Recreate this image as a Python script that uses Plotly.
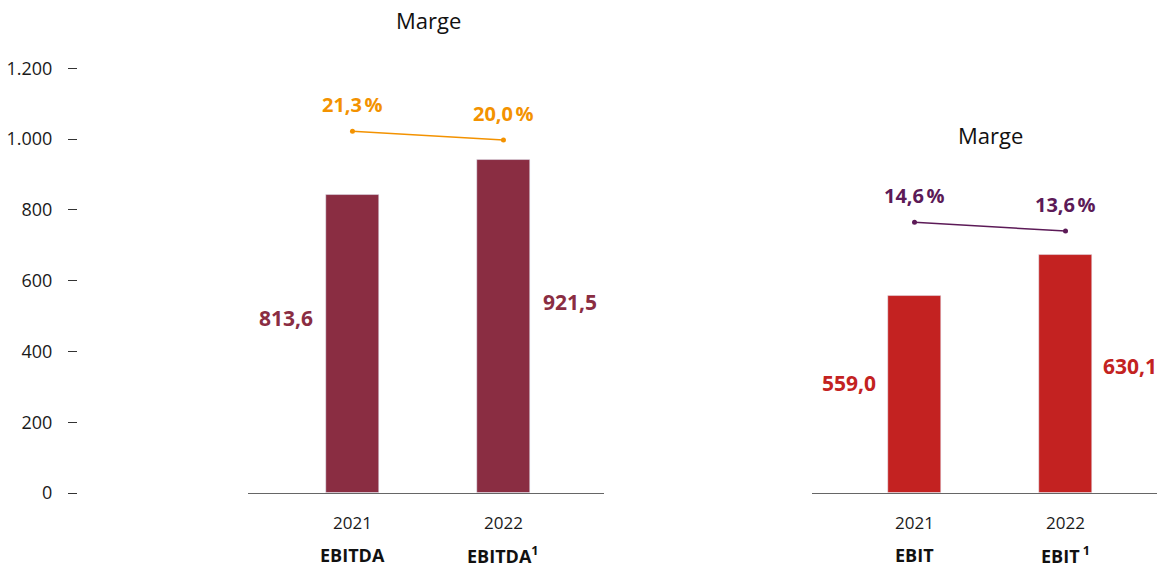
import plotly.graph_objects as go

years = ["2021", "2022"]
ebitda_bars = [842, 940]          # bar heights as drawn
ebitda_labels = ["813,6", "921,5"]
ebitda_margin_pos = [1022, 997]
ebitda_margin_labels = ["21,3\u202f%", "20,0\u202f%"]
ebit_bars = [556, 672]
ebit_labels = ["559,0", "630,1"]
ebit_margin_pos = [765, 740]
ebit_margin_labels = ["14,6\u202f%", "13,6\u202f%"]
cat_left = ["EBITDA", "EBITDA<sup>1</sup>"]
cat_right = ["EBIT", "EBIT<sup> 1</sup>"]
y_ticks = [0, 200, 400, 600, 800, 1000, 1200]
y_ticktext = ["0", "200", "400", "600", "800", "1.000", "1.200"]

C_EBITDA = "#8a2d42"
C_EBIT = "#c32221"
C_ORANGE = "#f39200"
C_PURPLE = "#5c1a57"
FONT = "Open Sans"
W, H = 1157, 575
VIEW_H = 564  # page gets squeezed to this height in the screenshot


def py(pix):
    # pixel row in the 1157x564 picture -> paper fraction
    return 1 - pix / VIEW_H


fig = go.Figure()
fig.add_trace(go.Bar(x=[0, 1], y=ebitda_bars, marker_color=C_EBITDA, width=0.351,
                     xaxis="x", yaxis="y", hoverinfo="skip"))
fig.add_trace(go.Scatter(x=[0, 1], y=ebitda_margin_pos, mode="lines+markers",
                         line=dict(color=C_ORANGE, width=1.5), marker=dict(size=5, color=C_ORANGE),
                         xaxis="x", yaxis="y", cliponaxis=False))
fig.add_trace(go.Bar(x=[0, 1], y=ebit_bars, marker_color=C_EBIT, width=0.351,
                     xaxis="x2", yaxis="y", hoverinfo="skip"))
fig.add_trace(go.Scatter(x=[0, 1], y=ebit_margin_pos, mode="lines+markers",
                         line=dict(color=C_PURPLE, width=1.5), marker=dict(size=5, color=C_PURPLE),
                         xaxis="x2", yaxis="y", cliponaxis=False))

ann = []
# value labels next to bars
lbl_y_left = [494, 540]
lbl_y_right = [311, 359]
for xr, lab, ly, col, rs in [("x", ebitda_labels, lbl_y_left, C_EBITDA, 38),
                             ("x2", ebit_labels, lbl_y_right, C_EBIT, 35)]:
    ann.append(dict(x=0, y=ly[0], xref=xr, yref="y", text="<b>%s</b>" % lab[0], showarrow=False,
                    xanchor="right", xshift=-37, font=dict(size=21, color=col, family=FONT)))
    ann.append(dict(x=1, y=ly[1], xref=xr, yref="y", text="<b>%s</b>" % lab[1], showarrow=False,
                    xanchor="left", xshift=rs, font=dict(size=21, color=col, family=FONT)))
# margin labels
for xr, pos, labs, col in [("x", ebitda_margin_pos, ebitda_margin_labels, C_ORANGE),
                           ("x2", ebit_margin_pos, ebit_margin_labels, C_PURPLE)]:
    for i in range(2):
        ann.append(dict(x=i, y=pos[i], xref=xr, yref="y", text="<b>%s</b>" % labs[i], showarrow=False,
                        yanchor="bottom", yshift=11, font=dict(size=20, color=col, family=FONT)))
# category labels
for xr, cats in [("x", cat_left), ("x2", cat_right)]:
    for i in range(2):
        ann.append(dict(x=i, y=py(555), xref=xr, yref="paper", text="<b>%s</b>" % cats[i],
                        showarrow=False, yanchor="middle", font=dict(size=18, color="#111", family=FONT)))
# Marge titles
ann.append(dict(x=428 / W, y=py(20), xref="paper", yref="paper", text="Marge", showarrow=False,
                xanchor="center", yanchor="middle", font=dict(size=22, color="#111", family=FONT)))
ann.append(dict(x=990 / W, y=py(135), xref="paper", yref="paper", text="Marge", showarrow=False,
                xanchor="center", yanchor="middle", font=dict(size=22, color="#111", family=FONT)))

axis_common = dict(tickvals=[0, 1], ticktext=years, showgrid=False, zeroline=False,
                   showline=True, linecolor="#666", linewidth=1, ticks="", ticklabelstandoff=15,
                   tickfont=dict(size=17, color="#1a1a1a", family=FONT), anchor="y")

y0 = 493
px_per = 0.354
top_val = 1300
fig.update_layout(
    width=W, height=H, margin=dict(l=0, r=0, t=0, b=0),
    plot_bgcolor="white", paper_bgcolor="white", showlegend=False, bargap=0,
    xaxis=dict(domain=[248 / W, 604 / W], range=[-0.692, 1.666], **axis_common),
    xaxis2=dict(domain=[812 / W, 1.0], range=[-0.679, 1.606], **axis_common),
    yaxis=dict(domain=[py(y0), py(y0 - top_val * px_per)], range=[0, top_val],
               anchor="free", position=77 / W, tickvals=y_ticks, ticktext=y_ticktext,
               ticks="outside", ticklen=9, tickcolor="#333", tickwidth=1,
               showgrid=False, zeroline=False, showline=False, ticklabelstandoff=12,
               tickfont=dict(size=18, color="#1a1a1a", family=FONT)),
    annotations=ann,
)
fig.write_html("out.html", config={"displayModeBar": False},
               post_script="document.body.style.margin='0';")
